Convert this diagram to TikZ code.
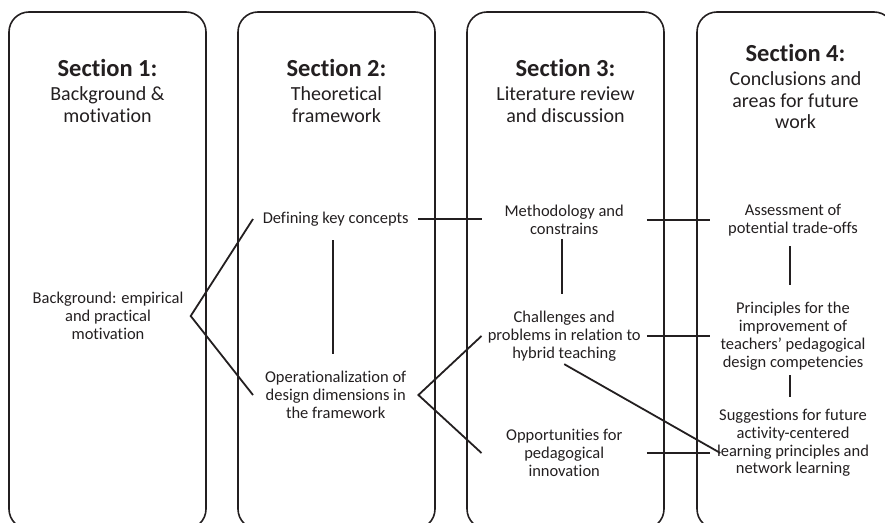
\documentclass[tikz,border=0pt]{standalone}
\usepackage{fontspec}
\setmainfont{Carlito}[Ligatures=NoCommon]
\definecolor{ink}{HTML}{231F20}
\begin{document}
\begin{tikzpicture}[x=1pt,y=1pt,
  frame/.style={draw=ink, line width=1.6pt, rounded corners=20pt},
  head/.style={align=center, inner sep=0pt, text=ink, anchor=north,
    font=\fontsize{20}{21.5}\selectfont},
  item/.style={align=center, inner sep=3pt, minimum width=165pt, text=ink,
    font=\fontsize{16.5}{17.8}\selectfont},
  link/.style={draw=ink, line width=1.8pt},
  hlink/.style={draw=ink, line width=2.6pt},
]
\newcommand{\sectitle}[1]{{\fontsize{24.5}{26}\selectfont\bfseries #1}}
\useasboundingbox (0,0) rectangle (885,-522);
\clip (0,0) rectangle (885,-522);

% the four section columns
\draw[frame] (9,-12) rectangle (206,-529);
\draw[frame] (238,-12) rectangle (435,-529);
\draw[frame] (467,-12) rectangle (664,-529);
\draw[frame] (697,-12) rectangle (894,-529);

% column headings
\node[head] (t1) at (107.5,-59) {\sectitle{Section 1:}\\[3pt] Background \&\\ motivation};
\node[head] (t2) at (336.5,-59) {\sectitle{Section 2:}\\[3pt] Theoretical\\ framework};
\node[head] (t3) at (565.5,-59) {\sectitle{Section 3:}\\[3pt] Literature review\\ and discussion};
\node[head] (t4) at (795.5,-44) {\sectitle{Section 4:}\\[3pt] Conclusions and\\ areas for future\\ work};

% topics
\node[item] (bg) at (108,-316) {Background: empirical\\ and practical\\ motivation};
\node[item] (def) at (335.7,-219) {Defining key concepts};
\node[item] (op) at (335.7,-395) {Operationalization of\\ design dimensions in\\ the framework};
\node[item] (meth) at (564.2,-220) {Methodology and\\ constrains};
\node[item] (chal) at (564.2,-336) {Challenges and\\ problems in relation to\\ hybrid teaching};
\node[item] (opp) at (564.2,-453) {Opportunities for\\ pedagogical\\ innovation};
\node[item] (ass) at (793,-220) {Assessment of\\ potential trade-offs};
\node[item] (princ) at (793,-336) {Principles for the\\ improvement of\\ teachers’ pedagogical\\ design competencies};
\node[item] (sugg) at (793,-443) {Suggestions for future\\ activity-centered\\ learning principles and\\ network learning};

% branching links
\draw[link] (def.west) -- (bg.east) -- (op.west);
\draw[link] (chal.west) -- (op.east) -- (opp.west);
\draw[link] (chal.south) -- ([shift={(10pt,-10pt)}]sugg.west);

% links inside a column
\draw[link, shorten <=11pt, shorten >=14pt] ([xshift=-2.5pt]def.south) -- ([xshift=-2.5pt]op.north);
\draw[link, shorten <=1pt, shorten >=14pt] ([xshift=-2pt]meth.south) -- ([xshift=-2pt]chal.north);
\draw[link, shorten <=7pt, shorten >=14pt] ([xshift=-3pt]ass.south) -- ([xshift=-3pt]princ.north);
\draw[link, shorten <=2pt, shorten >=9pt] ([xshift=-3pt]princ.south) -- ([xshift=-3pt]sugg.north);

% links across columns
\draw[hlink] (def.east) -- (def.east -| meth.west);
\draw[hlink] (meth.east) -- (meth.east -| ass.west);
\draw[hlink] (chal.east) -- (chal.east -| princ.west);
\draw[hlink] (opp.east) -- (opp.east -| sugg.west);
\end{tikzpicture}
\end{document}
